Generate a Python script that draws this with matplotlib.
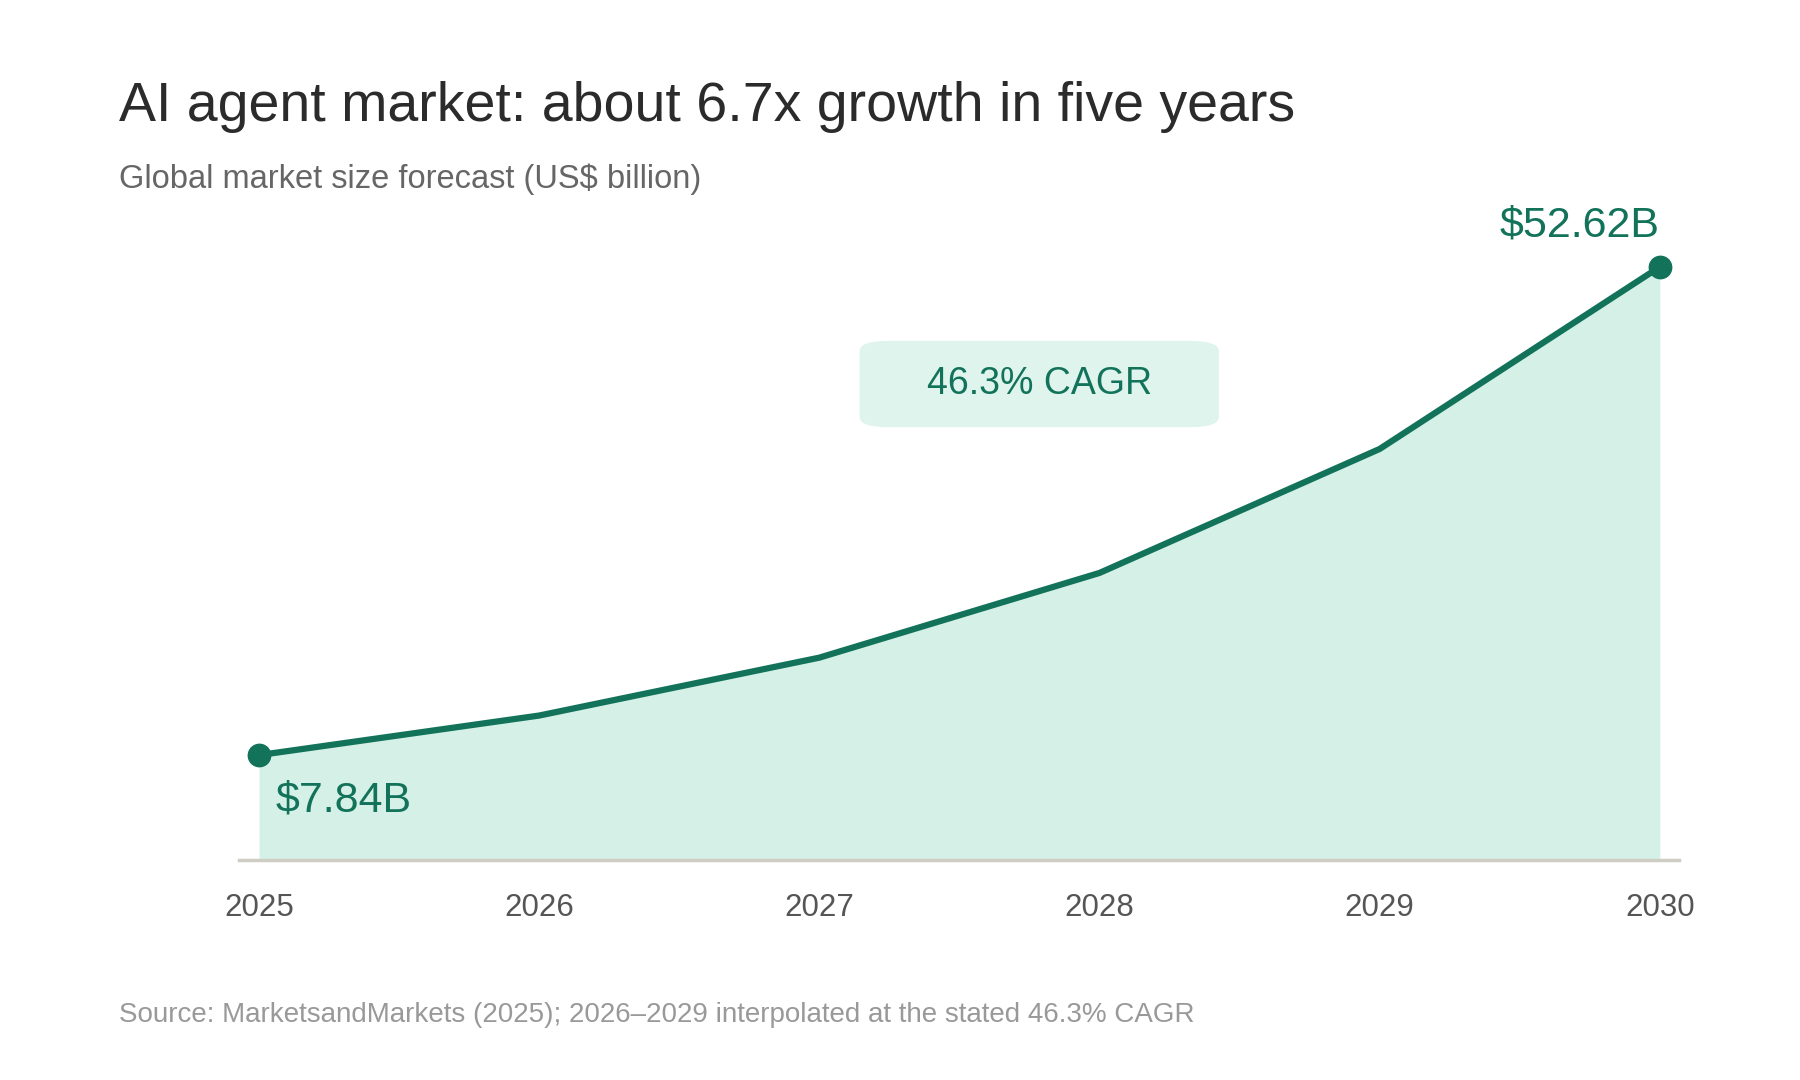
import matplotlib
matplotlib.use("Agg")
import matplotlib.pyplot as plt
from matplotlib.patches import FancyBboxPatch

years = [2025, 2026, 2027, 2028, 2029, 2030]
values = [7.84, 11.47, 16.78, 24.55, 35.92, 52.62]
tick_labels = ["2025", "2026", "2027", "2028", "2029", "2030"]

plt.rcParams['font.family'] = ['Liberation Sans', 'DejaVu Sans']
line_c = "#12735a"
fig = plt.figure(figsize=(18, 10.8), dpi=100)
ax = fig.add_axes([0.133, 0.204, 0.80, 0.583])
ax.set_xlim(2024.93, 2030.07)
ax.set_ylim(-1.75, 56.0)
ax.fill_between(years, values, -1.75, color="#d5f0e6", lw=0)
ax.plot(years, values, color=line_c, lw=4.5, solid_capstyle="round")
ax.scatter([years[0], years[-1]], [values[0], values[-1]], s=260, color=line_c, zorder=5)
for s in ["top", "right", "left"]:
    ax.spines[s].set_visible(False)
ax.spines["bottom"].set_color("#d0cec4")
ax.spines["bottom"].set_linewidth(2.5)
ax.set_yticks([])
ax.set_xticks(years)
ax.set_xticklabels(tick_labels, fontsize=22.5, color="#555555")
ax.tick_params(axis="x", length=0, pad=24)

ax.text(years[0] + 0.06, values[0] - 2.3, f"${values[0]:.2f}B", fontsize=31, color=line_c, va="top", ha="left")
ax.text(years[-1], values[-1] + 2.0, f"${values[-1]:.2f}B", fontsize=31, color=line_c, va="bottom", ha="right")
# CAGR box: pixel extents in reference (1568 scale) 749..1062 x, 296..372 y
bx0 = 2025 + (749 - 226) / 244; bx1 = 2025 + (1062 - 226) / 244
by0 = (731.4 - 372) / 9.49; by1 = (731.4 - 296) / 9.49
ax.add_patch(FancyBboxPatch((bx0 + 0.1, by0 + 1.0), bx1 - bx0 - 0.2, by1 - by0 - 2.0,
             boxstyle="round,pad=0.1,rounding_size=0.1", mutation_aspect=9.5,
             fc="#e0f4ee", ec="none", zorder=3))
ax.text((bx0 + bx1) / 2, (by0 + by1) / 2, "46.3% CAGR", fontsize=27, color=line_c,
        ha="center", va="center", zorder=4)

fig.text(0.066, 0.901, "AI agent market: about 6.7x growth in five years", fontsize=40, color="#2b2b2b", va="center")
fig.text(0.066, 0.834, "Global market size forecast (US$ billion)", fontsize=23.5, color="#666666", va="center")
fig.text(0.066, 0.06, "Source: MarketsandMarkets (2025); 2026–2029 interpolated at the stated 46.3% CAGR",
         fontsize=20, color="#999999", va="center")
fig.savefig("out.png", dpi=100, facecolor="white")
